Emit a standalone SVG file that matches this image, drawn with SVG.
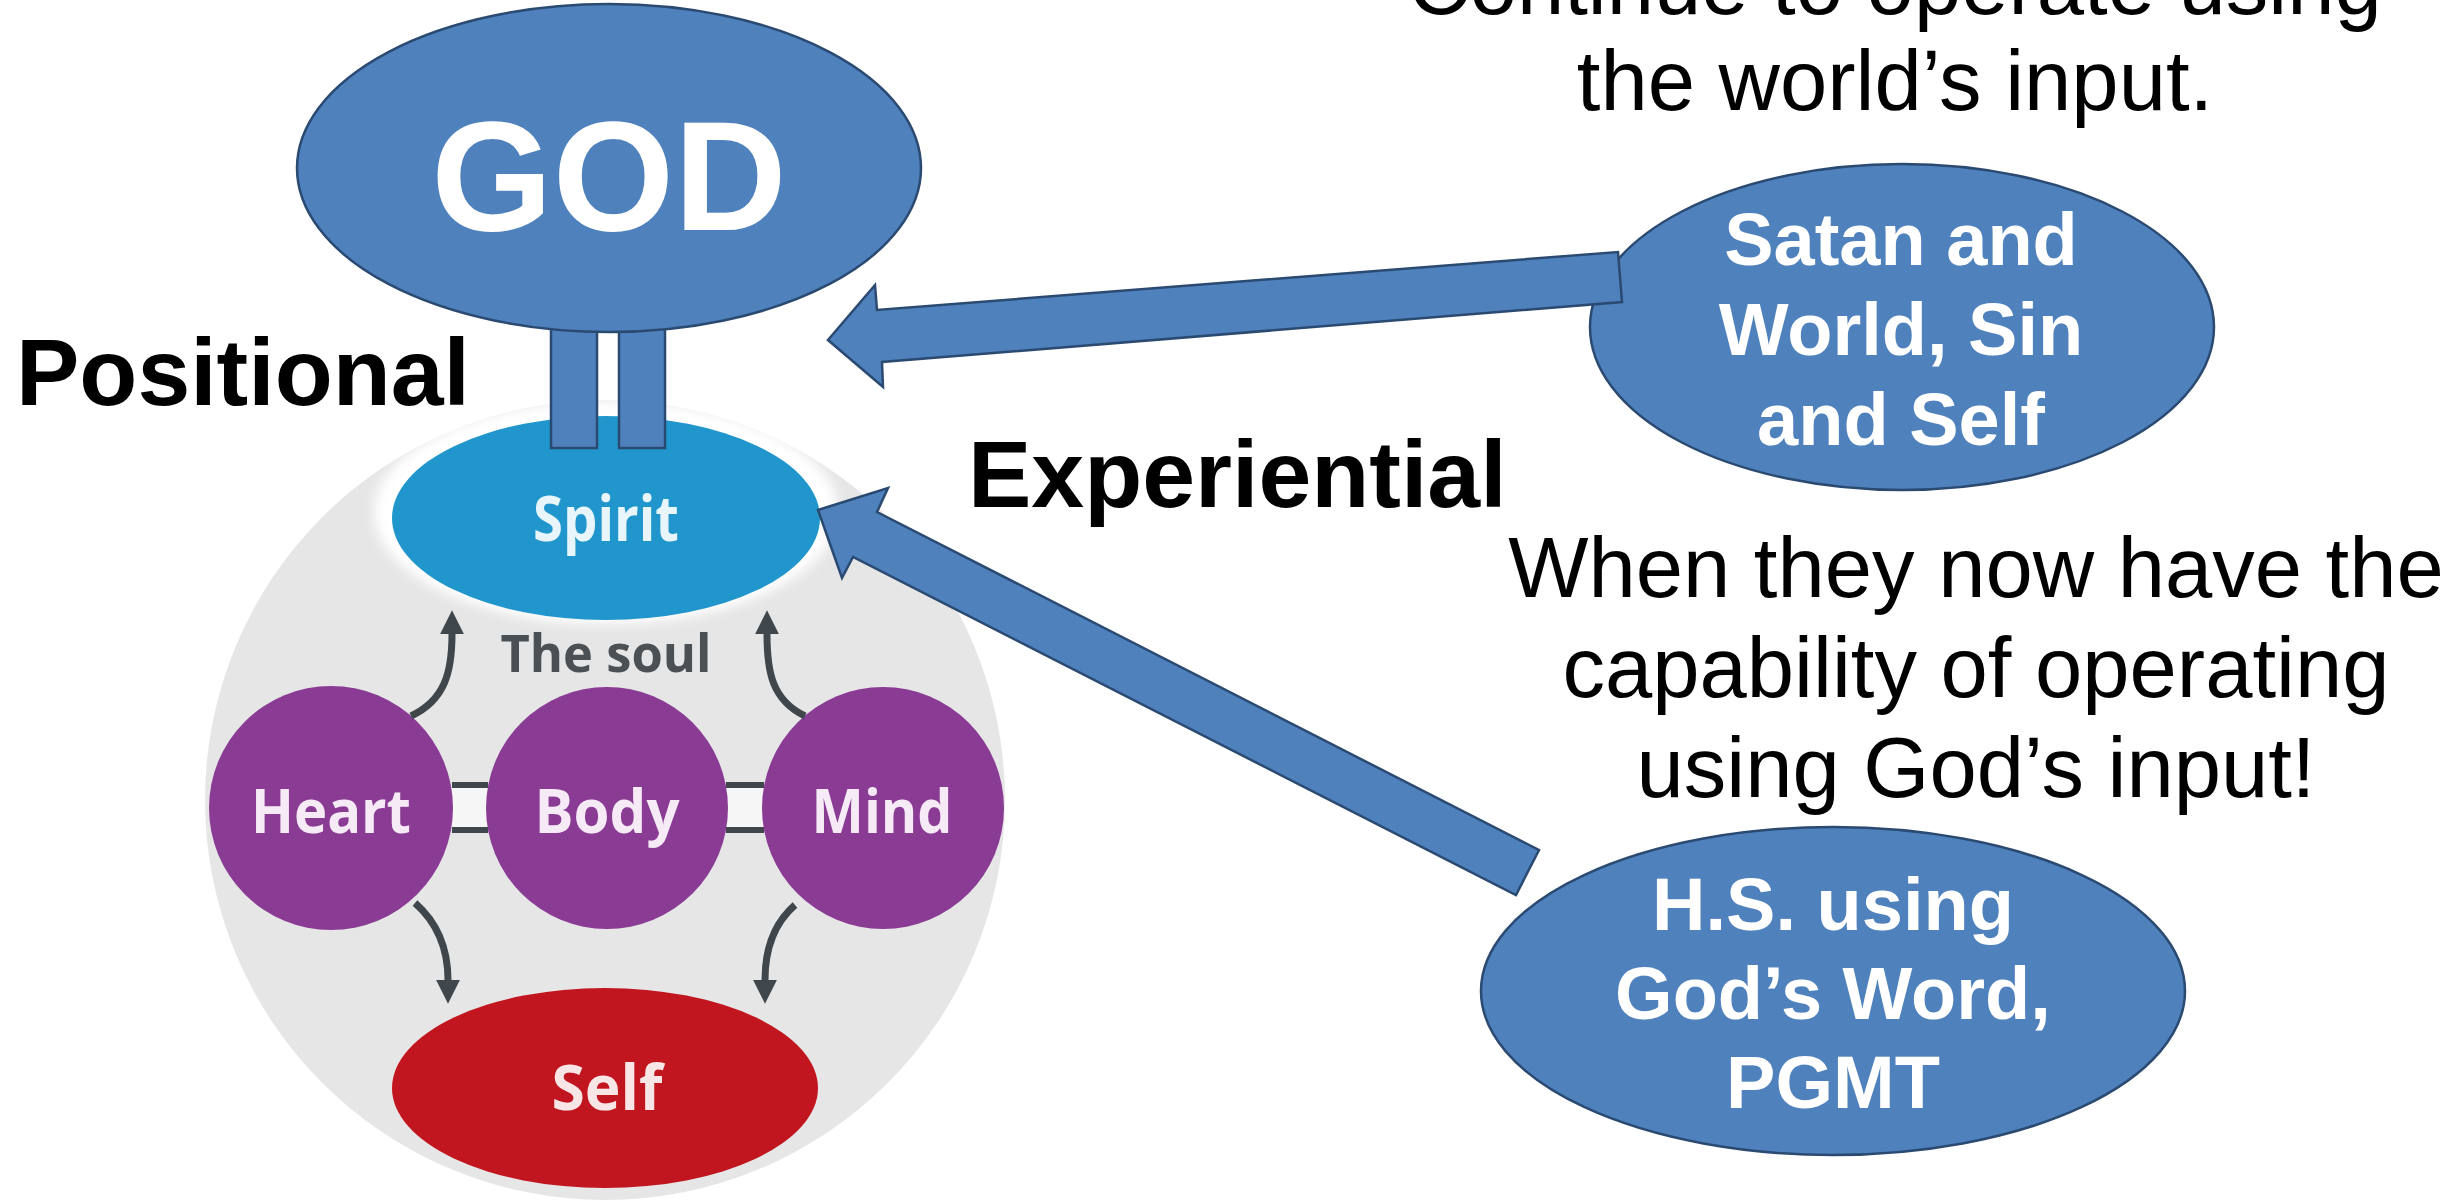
<svg xmlns="http://www.w3.org/2000/svg" width="2458" height="1204" viewBox="0 0 2458 1204">
<style>
  .blue { fill: #4f81bd; stroke: #2b4a72; stroke-width: 2.5; }
  .txt { font-family: "Liberation Sans", Arial, sans-serif; fill: #000; }
  .bold { font-weight: bold; }
  .wt { font-family: "Liberation Sans", Arial, sans-serif; font-weight: bold; fill: #ffffff; text-anchor: middle; }
  .soul { font-family: "Open Sans", "Liberation Sans", sans-serif; font-weight: 700; text-anchor: middle; }
  .purple { fill: #8a3b94; }
  .curve { fill: none; stroke: #3f474c; stroke-width: 7; marker-end: url(#ah); }
  .bar { fill: #f6f6f6; }
  .barline { stroke: #3f474c; stroke-width: 6; }
</style>
<defs>
  <marker id="ah" viewBox="0 0 10 10" refX="0" refY="5" markerWidth="3.6" markerHeight="3.4" orient="auto" markerUnits="strokeWidth">
    <path d="M0,0 L10,5 L0,10 z" fill="#3f474c"/>
  </marker>
  <filter id="soft" x="-20%" y="-20%" width="140%" height="140%">
    <feGaussianBlur stdDeviation="6"/>
  </filter>
</defs>
<rect width="2458" height="1204" fill="#ffffff"/>

<!-- Soul picture -->
<g id="soul-diagram">
  <circle cx="605" cy="800" r="400" fill="#e6e6e7"/>
  <ellipse cx="606" cy="512" rx="232" ry="112" fill="#ffffff" filter="url(#soft)"/>
  <g id="bars">
    <rect class="bar" x="452" y="784" width="36" height="47"/>
    <line class="barline" x1="452" y1="785" x2="488" y2="785"/>
    <line class="barline" x1="452" y1="830" x2="488" y2="830"/>
    <rect class="bar" x="726" y="784" width="38" height="47"/>
    <line class="barline" x1="726" y1="785" x2="764" y2="785"/>
    <line class="barline" x1="726" y1="830" x2="764" y2="830"/>
  </g>
  <g id="spirit">
    <ellipse cx="606" cy="518" rx="214" ry="102" fill="#2196cc"/>
    <text class="soul" x="606" y="541" font-size="62" fill="#e8f6fb" textLength="146" lengthAdjust="spacingAndGlyphs">Spirit</text>
  </g>
  <text id="the-soul" class="soul" x="606" y="672" font-size="52" fill="#4b5055" textLength="211" lengthAdjust="spacingAndGlyphs">The soul</text>
  <g id="heart">
    <circle class="purple" cx="331" cy="808" r="122"/>
    <text class="soul" x="331" y="833" font-size="60" fill="#f6eaf6" textLength="160" lengthAdjust="spacingAndGlyphs">Heart</text>
  </g>
  <g id="body">
    <circle class="purple" cx="607" cy="808" r="121"/>
    <text class="soul" x="607" y="833" font-size="60" fill="#f6eaf6" textLength="145" lengthAdjust="spacingAndGlyphs">Body</text>
  </g>
  <g id="mind">
    <circle class="purple" cx="883" cy="808" r="121"/>
    <text class="soul" x="882" y="833" font-size="60" fill="#f6eaf6" textLength="141" lengthAdjust="spacingAndGlyphs">Mind</text>
  </g>
  <g id="self">
    <ellipse cx="605" cy="1088" rx="213" ry="100" fill="#c1161f"/>
    <text class="soul" x="607" y="1110" font-size="62" fill="#f8e6e6" textLength="111" lengthAdjust="spacingAndGlyphs">Self</text>
  </g>
  <g id="soul-arrows">
    <path class="curve" d="M411 716 C445 700 452 672 452 634"/>
    <path class="curve" d="M805 716 C772 700 767 672 767 634"/>
    <path class="curve" d="M415 903 C440 925 448 952 448 980"/>
    <path class="curve" d="M795 905 C772 925 765 952 765 980"/>
  </g>
</g>

<!-- Connectors -->
<g id="connectors">
  <rect class="blue" x="551" y="300" width="46" height="148"/>
  <rect class="blue" x="619" y="300" width="46" height="148"/>
</g>

<g id="god">
  <ellipse class="blue" cx="609" cy="168" rx="312" ry="164"/>
  <text class="wt" x="609" y="230" font-size="156">GOD</text>
</g>

<g id="satan">
  <ellipse class="blue" cx="1902" cy="327" rx="312" ry="163"/>
  <text class="wt" x="1901" y="265" font-size="74">Satan and</text>
  <text class="wt" x="1901" y="355" font-size="74">World, Sin</text>
  <text class="wt" x="1901" y="445" font-size="74">and Self</text>
</g>

<g id="holy-spirit">
  <ellipse class="blue" cx="1833" cy="991" rx="352" ry="164"/>
  <text class="wt" x="1833" y="930" font-size="74">H.S. using</text>
  <text class="wt" x="1833" y="1019" font-size="74">God’s Word,</text>
  <text class="wt" x="1833" y="1108" font-size="74">PGMT</text>
</g>

<g id="arrows">
  <polygon class="blue" points="828,340 875,285 877,310 1618,252 1622,302 882,362 883,387"/>
  <polygon class="blue" points="818,510 888,488 877,512 1539,850 1516,895 853,557 842,578"/>
</g>

<g id="labels">
  <text class="txt bold" x="16" y="405" font-size="95">Positional</text>
  <text class="txt bold" x="968" y="507" font-size="95">Experiential</text>
  <g font-size="85" text-anchor="middle">
    <text class="txt" x="1895" y="14">Continue to operate using</text>
    <text class="txt" x="1895" y="110">the world’s input.</text>
    <text class="txt" x="1976" y="597">When they now have the</text>
    <text class="txt" x="1976" y="697">capability of operating</text>
    <text class="txt" x="1976" y="797">using God’s input!</text>
  </g>
</g>
</svg>
